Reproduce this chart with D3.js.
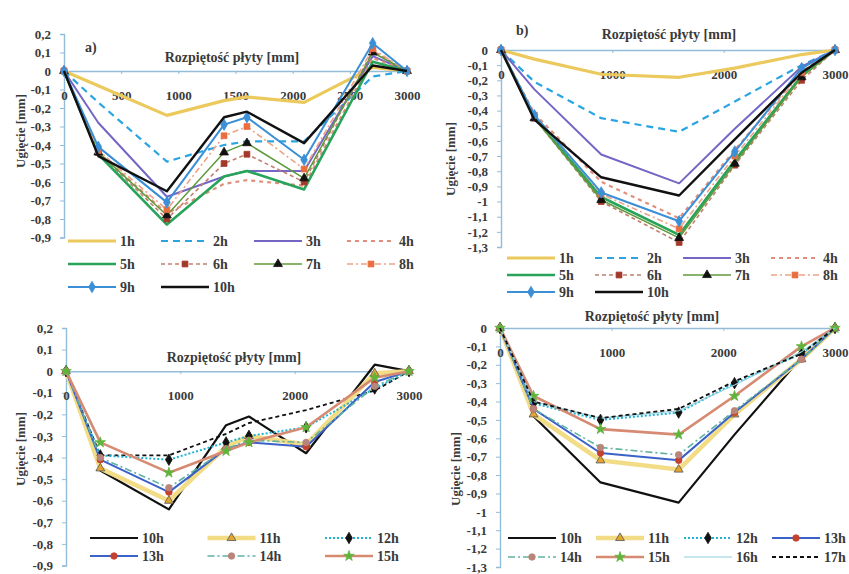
<!DOCTYPE html>
<html>
<head>
<meta charset="utf-8">
<script src="https://cdn.jsdelivr.net/npm/d3@7"></script>
<style>
  body { margin: 0; background: #fff; }
  svg { display: block; }
  text { font-family: "Liberation Serif", "Times New Roman", serif; font-weight: bold; fill: #3a3a3a; }
</style>
</head>
<body>
<svg id="chart" width="849" height="574"></svg>
<script>
// Measurement positions along the slab span [mm]
const spanFull = [0, 300, 900, 1400, 1600, 2100, 2700, 3000];
const spanShort = [0, 300, 900, 1600, 2100, 2700, 3000];

// Panel a) deflection [mm], hours 1-10
const aHours = ["1h", "2h", "3h", "4h", "5h", "6h", "7h", "8h", "9h", "10h"];
const a1h  = [0, -0.08, -0.24, -0.16, -0.14, -0.17, 0.02, 0];
const a2h  = [0, -0.17, -0.49, -0.40, -0.38, -0.38, -0.03, 0];
const a3h  = [0, -0.28, -0.68, -0.57, -0.54, -0.54, 0.08, 0];
const a4h  = [0, -0.44, -0.77, -0.61, -0.59, -0.62, 0.07, 0];
const a5h  = [0, -0.45, -0.83, -0.57, -0.54, -0.64, 0.05, 0];
const a6h  = [0, -0.44, -0.80, -0.50, -0.45, -0.60, 0.11, 0];
const a7h  = [0, -0.44, -0.78, -0.44, -0.39, -0.58, 0.10, 0];
const a8h  = [0, -0.43, -0.75, -0.35, -0.30, -0.53, 0.12, 0];
const a9h  = [0, -0.41, -0.71, -0.29, -0.25, -0.48, 0.15, 0];
const a10h = [0, -0.46, -0.65, -0.25, -0.22, -0.39, 0.03, 0];

// Panel b) deflection [mm], hours 1-10
const b1h  = [0, -0.06, -0.16, -0.18, -0.12, -0.03, 0];
const b2h  = [0, -0.21, -0.45, -0.54, -0.34, -0.10, 0];
const b3h  = [0, -0.26, -0.69, -0.88, -0.52, -0.11, 0];
const b4h  = [0, -0.42, -0.87, -1.11, -0.66, -0.14, 0];
const b5h  = [0, -0.44, -0.97, -1.22, -0.73, -0.17, 0];
const b6h  = [0, -0.45, -1.00, -1.27, -0.76, -0.20, 0];
const b7h  = [0, -0.45, -0.99, -1.24, -0.75, -0.18, 0];
const b8h  = [0, -0.43, -0.95, -1.18, -0.70, -0.15, 0];
const b9h  = [0, -0.43, -0.94, -1.13, -0.67, -0.12, 0];
const b10h = [0, -0.46, -0.84, -0.96, -0.59, -0.15, 0];

// Panel c) deflection [mm], hours 10-17
const cHours = ["10h", "11h", "12h", "13h", "14h", "15h"];
const c10h = [0, -0.46, -0.64, -0.25, -0.21, -0.38, 0.03, 0];
const c11h = [0, -0.45, -0.60, -0.35, -0.30, -0.34, -0.01, 0];
const c12h = [0, -0.39, -0.41, -0.33, -0.30, -0.26, -0.08, 0];
const c13h = [0, -0.41, -0.56, -0.36, -0.33, -0.35, -0.05, 0];
const c14h = [0, -0.40, -0.54, -0.36, -0.32, -0.33, -0.07, 0];
const c15h = [0, -0.33, -0.47, -0.37, -0.33, -0.26, -0.03, 0];
const c17h = [0, -0.39, -0.39, -0.29, -0.24, -0.18, -0.09, 0];

// Panel d) deflection [mm], hours 10-17
const dHours = ["10h", "11h", "12h", "13h", "14h", "15h", "16h", "17h"];
const d10h = [0, -0.48, -0.84, -0.95, -0.58, -0.16, 0];
const d11h = [0, -0.47, -0.72, -0.77, -0.47, -0.17, 0];
const d12h = [0, -0.41, -0.50, -0.46, -0.30, -0.14, 0];
const d13h = [0, -0.44, -0.68, -0.72, -0.46, -0.17, 0];
const d14h = [0, -0.44, -0.65, -0.69, -0.45, -0.17, 0];
const d15h = [0, -0.37, -0.55, -0.58, -0.37, -0.10, 0];
const d16h = [0, -0.40, -0.49, -0.45, -0.31, -0.13, 0];
const d17h = [0, -0.40, -0.49, -0.44, -0.29, -0.14, 0];

// Tick labels
const xTicksFine = [0, 500, 1000, 1500, 2000, 2500, 3000];
const xTicksCoarse = [0, 1000, 2000, 3000];
const yTicksSmall = [0.2, 0.1, 0, -0.1, -0.2, -0.3, -0.4, -0.5, -0.6, -0.7, -0.8, -0.9];
const yTicksLarge = [0, -0.1, -0.2, -0.3, -0.4, -0.5, -0.6, -0.7, -0.8, -0.9, -1, -1.1, -1.2, -1.3];

const xTitle = "Rozpiętość płyty [mm]";
const yTitle = "Ugięcie [mm]";

// Line styles per hour series
const styleTop = {
  "1h":  { c: "#ecc95c", w: 3.2 },
  "2h":  { c: "#2aa5e2", w: 2.2, d: "7,5" },
  "3h":  { c: "#7466c4", w: 2 },
  "4h":  { c: "#e0907a", w: 2.2, d: "4,4" },
  "5h":  { c: "#27a45a", w: 2.6 },
  "6h":  { c: "#c0806e", w: 1.6, d: "4,3", m: "square", mc: "#a3392a" },
  "7h":  { c: "#5f9a3c", w: 1.5, m: "triangle", mc: "#111" },
  "8h":  { c: "#f0a286", w: 1.6, d: "6,3,2,3", m: "square", mc: "#ea6d3f" },
  "9h":  { c: "#3b8fd6", w: 2, m: "diamond", mc: "#3b8fd6" },
  "10h": { c: "#111", w: 2.4 }
};
const styleBottom = {
  "10h": { c: "#111", w: 2.2 },
  "11h": { c: "#f2dc86", w: 4.5, m: "triangle", mc: "#e2a532", ms: "#555" },
  "12h": { c: "#1fb3d3", w: 2, d: "2,2", m: "diamond", mc: "#111" },
  "13h": { c: "#3a62c8", w: 2, m: "circle", mc: "#c4412e" },
  "14h": { c: "#5fb3a0", w: 1.6, d: "7,3,2,3", m: "circle", mc: "#b9847a" },
  "15h": { c: "#d68a72", w: 2.6, m: "star", mc: "#5fb43c" },
  "16h": { c: "#8fd0de", w: 1.2 },
  "17h": { c: "#111", w: 1.8, d: "4,3" }
};

const panels = [
  {
    tag: "a)", xs: spanFull, xTicks: xTicksFine, yTicks: yTicksSmall,
    series: [["1h", a1h], ["2h", a2h], ["3h", a3h], ["4h", a4h], ["5h", a5h],
             ["6h", a6h], ["7h", a7h], ["8h", a8h], ["9h", a9h], ["10h", a10h]],
    legend: aHours, styles: styleTop,
    x: [64, 407], y: [237.5, 34], yDom: [-0.9, 0.2],
    tagPos: [85, 52], titlePos: [232, 62], yTitlePos: [20, 131],
    leg: { x0: 68, step: 93, cols: 4, y0: 241, dy: 23 }
  },
  {
    tag: "b)", xs: spanShort, xTicks: xTicksCoarse, yTicks: yTicksLarge,
    series: [["1h", b1h], ["2h", b2h], ["3h", b3h], ["4h", b4h], ["5h", b5h],
             ["6h", b6h], ["7h", b7h], ["8h", b8h], ["9h", b9h], ["10h", b10h]],
    legend: aHours, styles: styleTop,
    x: [501, 835], y: [247, 50], yDom: [-1.3, 0],
    tagPos: [516, 35], titlePos: [669, 39], yTitlePos: [450, 159],
    leg: { x0: 507, step: 88, cols: 4, y0: 258, dy: 17 }
  },
  {
    tag: "", xs: spanFull, xTicks: xTicksCoarse, yTicks: yTicksSmall,
    series: [["17h", c17h], ["10h", c10h], ["11h", c11h], ["12h", c12h],
             ["13h", c13h], ["14h", c14h], ["15h", c15h]],
    legend: cHours, styles: styleBottom,
    x: [66, 409], y: [565.5, 328], yDom: [-0.9, 0.2],
    tagPos: [0, 0], titlePos: [234, 362], yTitlePos: [20, 449],
    leg: { x0: 90, step: 117.5, cols: 3, y0: 538, dy: 18 }
  },
  {
    tag: "", xs: spanShort, xTicks: xTicksCoarse, yTicks: yTicksLarge,
    series: [["10h", d10h], ["11h", d11h], ["12h", d12h], ["13h", d13h],
             ["14h", d14h], ["15h", d15h], ["16h", d16h], ["17h", d17h]],
    legend: dHours, styles: styleBottom,
    x: [500, 835], y: [567, 328], yDom: [-1.3, 0],
    tagPos: [0, 0], titlePos: [652, 321], yTitlePos: [455, 469],
    leg: { x0: 508, step: 88, cols: 4, y0: 538, dy: 19 }
  }
];

const svg = d3.select("#chart");
const axisColor = "#93bcd9";
const fmt = v => String(+v.toFixed(1)).replace(".", ",");

const symbolOf = {
  square: d3.symbolSquare, triangle: d3.symbolTriangle, diamond: d3.symbolDiamond,
  circle: d3.symbolCircle, star: d3.symbolStar
};

function drawMarker(g, st, cx, cy) {
  if (!st.m) return;
  g.append("path")
    .attr("d", d3.symbol().type(symbolOf[st.m]).size(st.m === "diamond" ? 38 : 34)())
    .attr("transform", `translate(${cx},${cy})`)
    .attr("fill", st.mc)
    .attr("stroke", st.ms || st.mc)
    .attr("stroke-width", 0.8);
}

panels.forEach(p => {
  const x = d3.scaleLinear().domain([0, 3000]).range(p.x);
  const y = d3.scaleLinear().domain(p.yDom).range(p.y);
  const g = svg.append("g");

  // vertical axis with tick labels
  const ya = g.append("g").attr("transform", `translate(${p.x[0]},0)`)
    .call(d3.axisLeft(y).tickValues(p.yTicks).tickFormat(fmt).tickSize(4).tickPadding(9));
  ya.select(".domain").attr("stroke", axisColor).attr("stroke-width", 1.4);
  ya.selectAll(".tick line").attr("stroke", axisColor);
  ya.selectAll(".tick text").attr("font-size", 13).attr("fill", "#3a3a3a")
    .style("font-family", '"Liberation Serif", serif').style("font-weight", "bold");

  // horizontal axis running along zero deflection
  const xa = g.append("g").attr("transform", `translate(0,${y(0)})`)
    .call(d3.axisBottom(x).tickValues(p.xTicks).tickFormat(d3.format("d")).tickSize(3).tickPadding(17));
  xa.select(".domain").attr("stroke", axisColor).attr("stroke-width", 1.4);
  xa.selectAll(".tick line").attr("stroke", axisColor);
  xa.selectAll(".tick text").attr("font-size", 13).attr("fill", "#3a3a3a")
    .style("font-family", '"Liberation Serif", serif').style("font-weight", "bold");

  // titles
  g.append("text").attr("x", p.titlePos[0]).attr("y", p.titlePos[1])
    .attr("text-anchor", "middle").attr("font-size", 14).text(xTitle);
  g.append("text").attr("transform", `translate(${p.yTitlePos[0]},${p.yTitlePos[1]}) rotate(-90)`)
    .attr("text-anchor", "middle").attr("dy", "0.35em").attr("font-size", 13).text(yTitle);
  if (p.tag) {
    g.append("text").attr("x", p.tagPos[0]).attr("y", p.tagPos[1])
      .attr("font-size", 14).text(p.tag);
  }

  // series lines and markers
  const line = d3.line().x((d, i) => x(p.xs[i])).y(d => y(d));
  p.series.forEach(([name, vals]) => {
    const st = p.styles[name];
    g.append("path").datum(vals).attr("d", line)
      .attr("fill", "none").attr("stroke", st.c).attr("stroke-width", st.w)
      .attr("stroke-dasharray", st.d || null).attr("stroke-linejoin", "round");
    if (st.m) {
      vals.forEach((v, i) => drawMarker(g, st, x(p.xs[i]), y(v)));
    }
  });

  // legend
  p.legend.forEach((name, k) => {
    const st = p.styles[name];
    const col = k % p.leg.cols, row = Math.floor(k / p.leg.cols);
    const lx = p.leg.x0 + col * p.leg.step, ly = p.leg.y0 + row * p.leg.dy;
    g.append("line").attr("x1", lx).attr("x2", lx + 48).attr("y1", ly).attr("y2", ly)
      .attr("stroke", st.c).attr("stroke-width", st.w)
      .attr("stroke-dasharray", st.d || null);
    drawMarker(g, st, lx + 24, ly);
    g.append("text").attr("x", lx + 52).attr("y", ly).attr("dy", "0.35em")
      .attr("font-size", 14).text(name);
  });
});
</script>
</body>
</html>
